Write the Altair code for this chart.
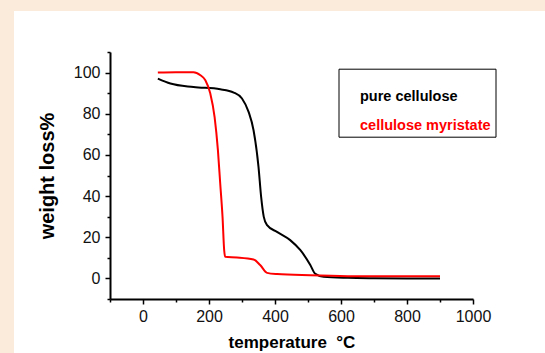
import altair as alt
import pandas as pd

# Series: pure cellulose (black)
T_PURE = [45, 83, 153, 234, 275, 300, 320, 335, 350, 358, 366, 376, 406, 446, 477, 507, 521, 547, 621, 700, 800, 900]
W_PURE = [97.1, 94.7, 93.0, 91.9, 90.3, 87.4, 80.9, 72.0, 54.2, 39.6, 29.9, 25.9, 22.6, 18.6, 13.7, 6.5, 2.4, 0.8, 0.3, 0.1, 0.0, 0.0]

# Series: cellulose myristate (red)
T_MYR = [45, 100, 153, 174, 189, 204, 217, 227, 234, 241, 246, 249, 285, 335, 355, 376, 406, 507, 621, 750, 900]
W_MYR = [100.0, 100.2, 100.2, 98.7, 96.3, 89.8, 78.4, 62.3, 46.1, 29.9, 13.7, 10.5, 10.2, 9.2, 6.5, 2.7, 2.1, 1.5, 1.1, 1.0, 1.0]

SERIES = ["pure cellulose", "cellulose myristate"]
COLORS = ["#000000", "#ff0000"]

X_TICKS = [-100, 0, 100, 200, 300, 400, 500, 600, 700, 800, 900, 1000]
Y_TICKS = [-10, 0, 10, 20, 30, 40, 50, 60, 70, 80, 90, 100, 110]

FONT = "Liberation Sans"

df = pd.concat([
    pd.DataFrame({"t": T_PURE, "w": W_PURE, "s": SERIES[0], "o": range(len(T_PURE))}),
    pd.DataFrame({"t": T_MYR, "w": W_MYR, "s": SERIES[1], "o": range(len(T_MYR))}),
])

panel = alt.Chart(pd.DataFrame({"a": [0]})).mark_rect(color="white").encode(
    x=alt.value(-96), x2=alt.value(435), y=alt.value(-41), y2=alt.value(301)
)

x_axis = alt.Axis(
    values=X_TICKS, format="d",
    labelExpr="datum.value % 200 == 0 ? datum.label : ''",
    tickSize={"condition": {"test": "datum.value % 200 == 0", "value": 5}, "value": 3},
    grid=False, zindex=1, domainWidth=2, domainColor="black", tickColor="black", tickWidth=1.5,
    labelFont=FONT, labelFontSize=16, labelColor="#111111", labelPadding=4,
    labelFlush=False, labelOverlap=False,
    title="temperature\u00a0\u00a0°C", titleFont=FONT, titleFontSize=17, titleFontWeight="bold",
    titleColor="black", titlePadding=10,
)
y_axis = alt.Axis(
    values=Y_TICKS, format="d",
    labelExpr="datum.value % 20 == 0 ? datum.label : ''",
    tickSize={"condition": {"test": "datum.value % 20 == 0", "value": 5}, "value": 3},
    grid=False, zindex=1, domainWidth=2, domainColor="black", tickColor="black", tickWidth=1.5,
    labelFont=FONT, labelFontSize=16, labelColor="#111111", labelPadding=5,
    labelFlush=False, labelOverlap=False,
    title="weight loss%", titleFont=FONT, titleFontSize=20, titleFontWeight="bold",
    titleColor="black", titlePadding=16,
)

legend = alt.Legend(
    orient="none", legendX=228.5, legendY=16.7,
    title="\u00a0", titleFontSize=8, titlePadding=9,
    padding=4, strokeColor="black", fillColor="white",
    labelFont=FONT, labelFontSize=14.5, labelFontWeight="bold",
    labelColor={"expr": "datum.label == 'pure cellulose' ? '#000000' : '#ff0000'"},
    symbolType="circle", symbolSize=1, symbolOpacity=0, symbolStrokeWidth=0,
    labelOffset=3, rowPadding=14, zindex=1,
)

lines = alt.Chart(df).mark_line(strokeWidth=2, interpolate="monotone").encode(
    x=alt.X("t:Q", scale=alt.Scale(domain=[-100, 1000], nice=False, zero=False), axis=x_axis),
    y=alt.Y("w:Q", scale=alt.Scale(domain=[-10, 110], nice=False, zero=False), axis=y_axis),
    color=alt.Color("s:N", scale=alt.Scale(domain=SERIES, range=COLORS), legend=legend),
    order="o:Q",
)

chart = alt.layer(panel, lines).properties(
    width=363, height=247,
    autosize=alt.AutoSizeParams(type="none"),
    padding={"left": 110, "top": 52, "right": 72, "bottom": 54},
    background="#faebdb",
).configure_view(strokeWidth=0)

chart.save("out.html", embed_options={"renderer": "svg", "actions": False})
